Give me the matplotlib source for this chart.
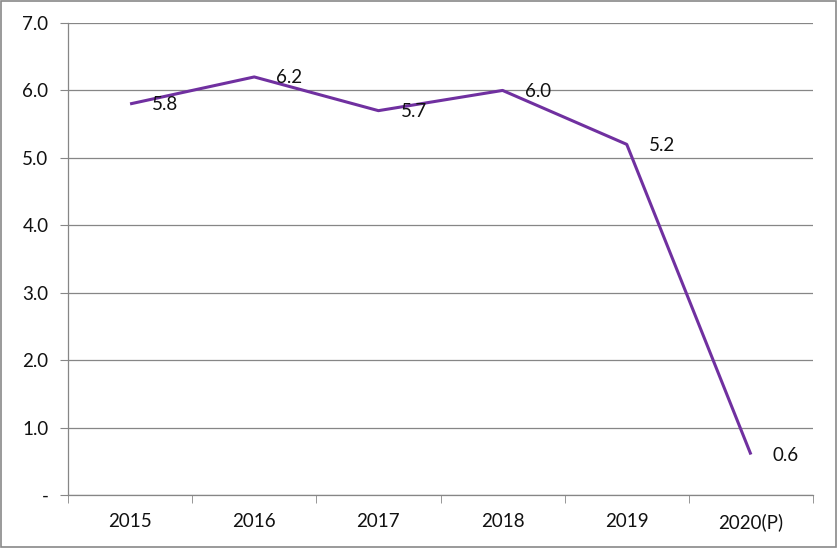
import matplotlib.pyplot as plt
from matplotlib.patches import Rectangle

years = ["2015", "2016", "2017", "2018", "2019", "2020(P)"]
growth = [5.8, 6.2, 5.7, 6.0, 5.2, 0.6]
y_ticks = [0, 1, 2, 3, 4, 5, 6, 7]
y_labels = ["-", "1.0", "2.0", "3.0", "4.0", "5.0", "6.0", "7.0"]

plt.rcParams['font.family'] = ['Lato', 'DejaVu Sans']
fs = 13.5

fig = plt.figure(figsize=(8.38, 5.48), dpi=100)
ax = fig.add_axes([68/838, 53/548, 745/838, 472/548])

x = list(range(len(years)))
ax.plot(x, growth, color="#7030A0", lw=2.2, solid_capstyle="butt")
for xi, v in zip(x, growth):
    ax.annotate(f"{v:.1f}", (xi, v), xytext=(22, -1), textcoords="offset pixels",
                ha="left", va="center", fontsize=fs, color="#111111")

ax.set_xlim(-0.5, len(years) - 0.5)
ax.set_ylim(0, 7)
ax.set_yticks(y_ticks)
ax.set_yticklabels(y_labels, fontsize=fs, color="#111111")
ax.set_xticks(x)
ax.set_xticklabels(years, fontsize=fs, color="#111111")
ax.set_xticks([i - 0.5 for i in range(len(years) + 1)], minor=True)
ax.tick_params(axis="x", which="major", length=0, pad=13)
ax.tick_params(axis="x", which="minor", length=6, color="#868686", direction="out")
ax.tick_params(axis="y", length=6, color="#868686", pad=8)
ax.grid(axis="y", color="#868686", lw=0.9)
ax.set_axisbelow(True)
for s in ["top", "right"]:
    ax.spines[s].set_visible(False)
for s in ["left", "bottom"]:
    ax.spines[s].set_color("#868686")
    ax.spines[s].set_linewidth(0.9)

fig.patches.append(Rectangle((0.001, 0.001), 0.997, 0.997, transform=fig.transFigure,
                             fill=False, edgecolor="#898989", lw=1.2))

fig.savefig("out.png", dpi=100)
